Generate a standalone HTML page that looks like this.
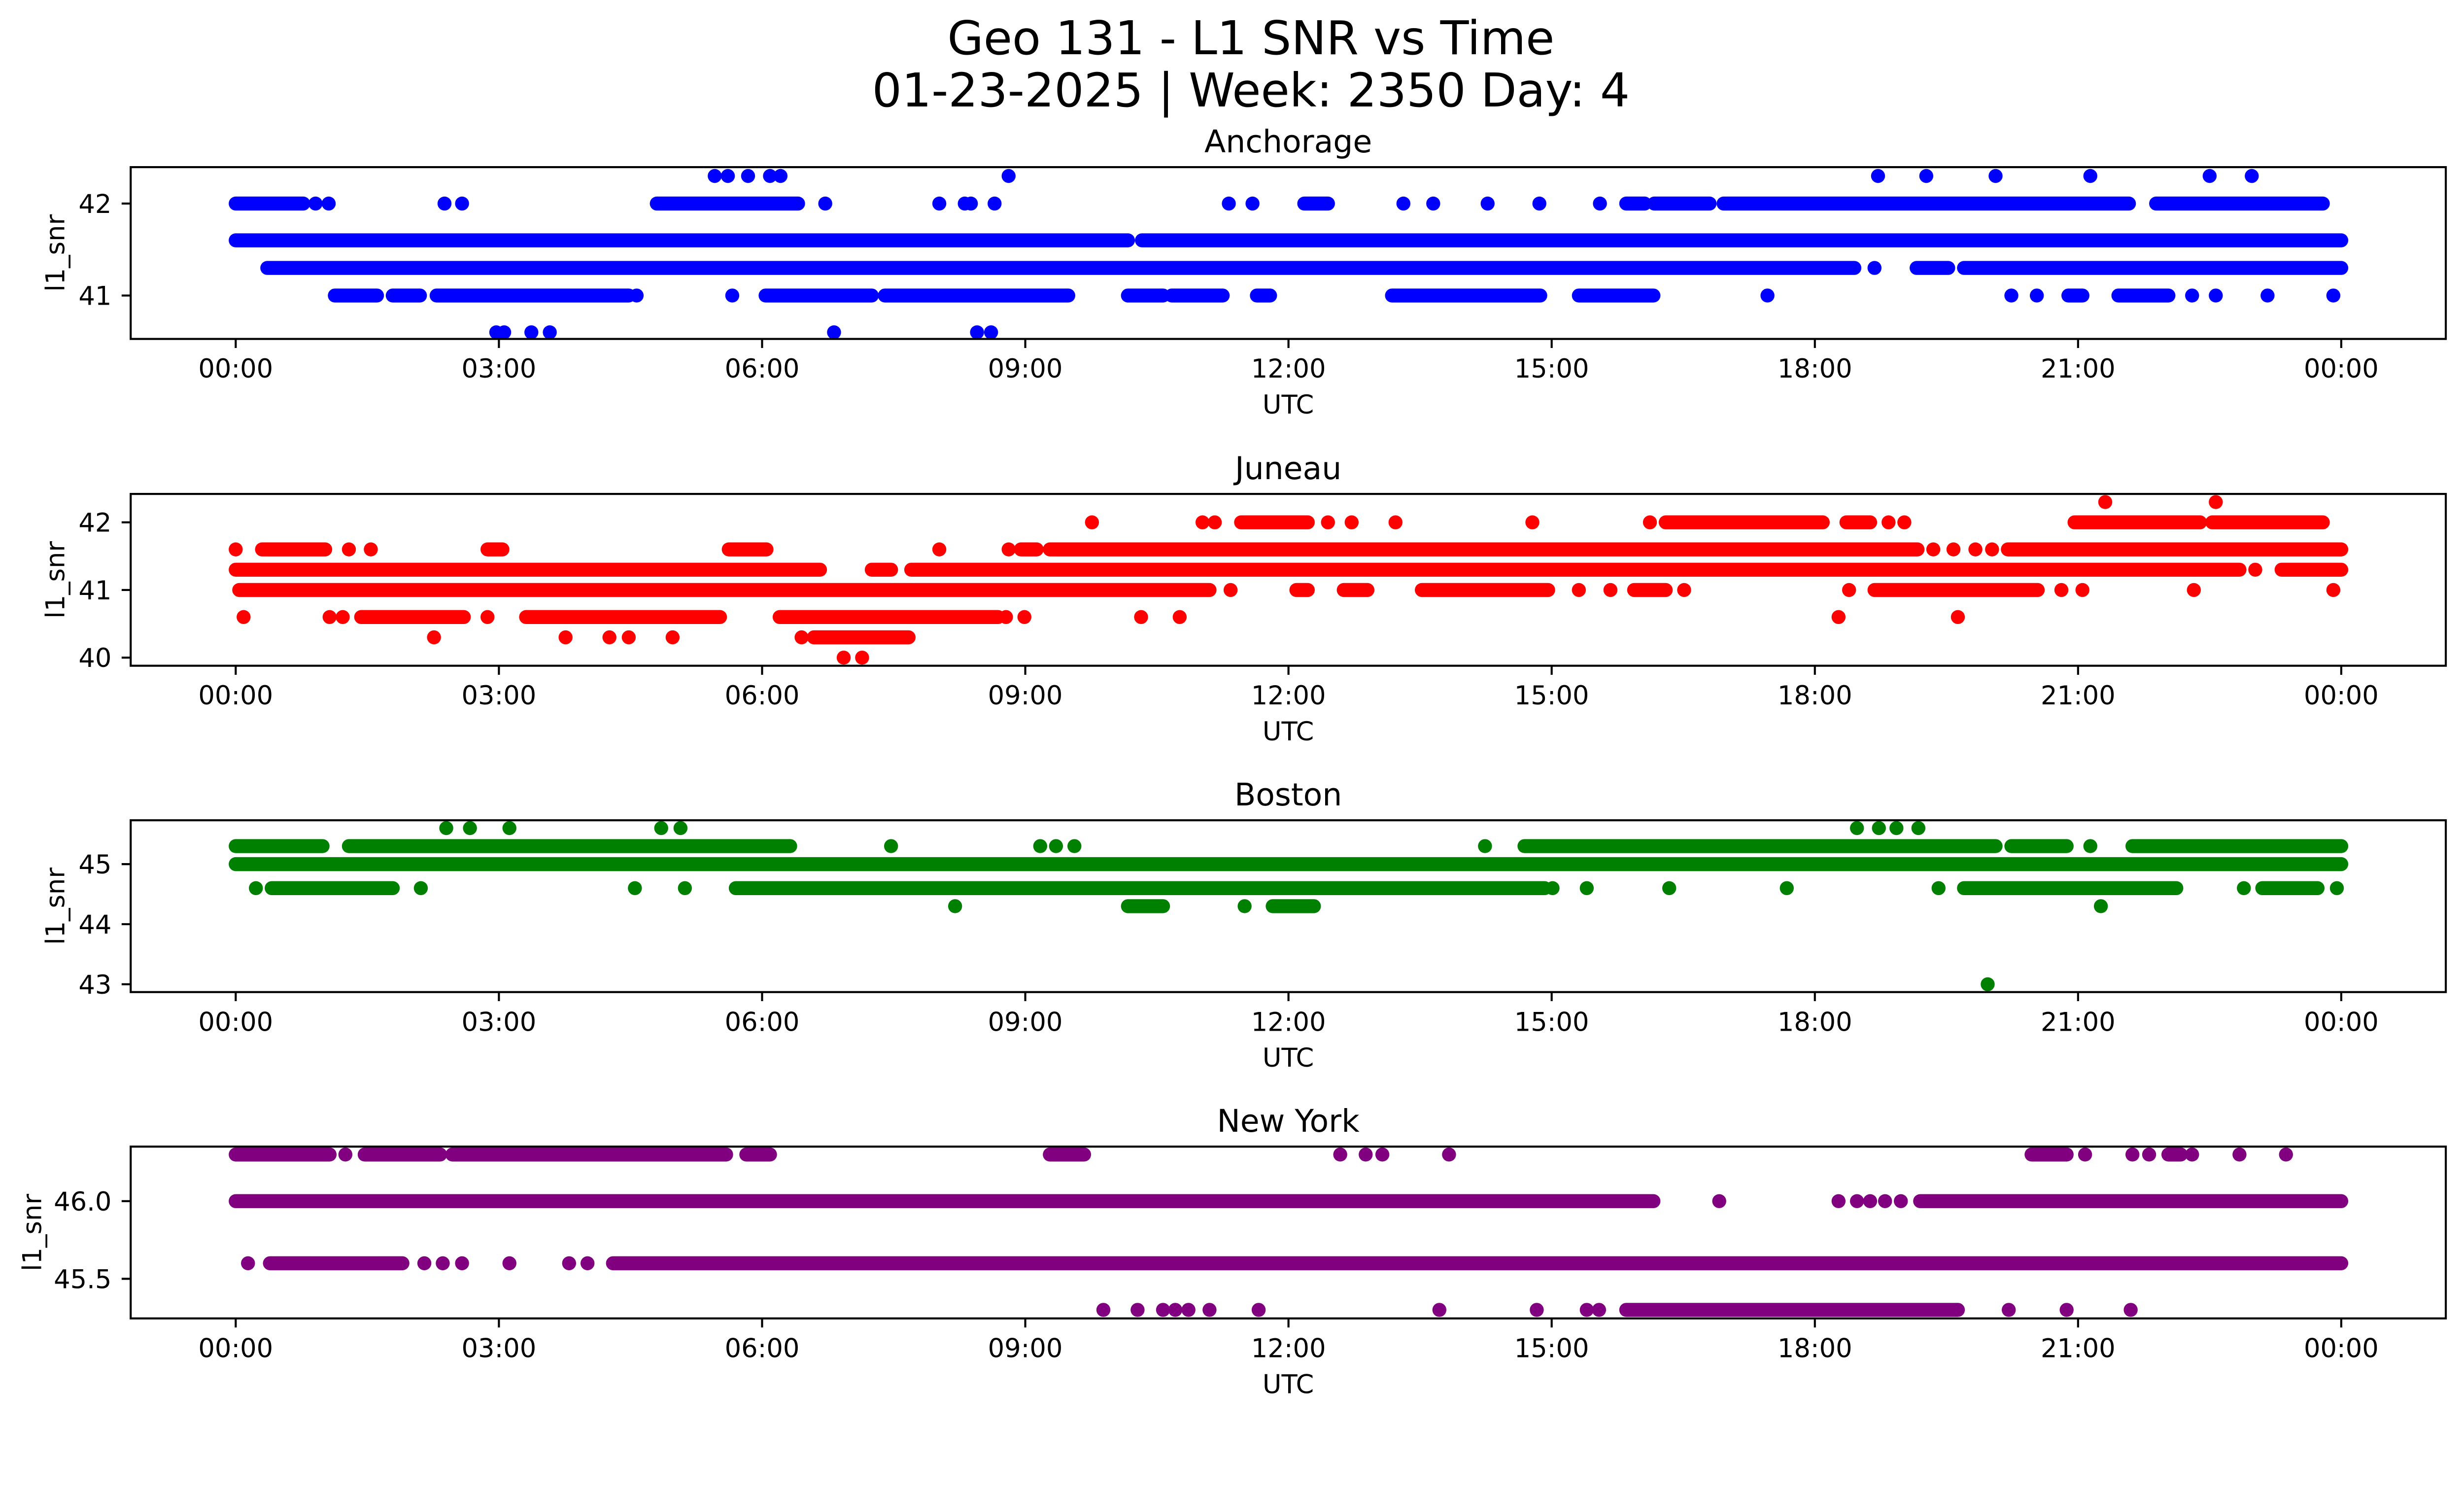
<!DOCTYPE html>
<html><head><meta charset="utf-8"><title>Geo 131 - L1 SNR vs Time</title>
<style>html,body{margin:0;padding:0;background:#fff;overflow:hidden;}svg{display:block;width:100vw;height:57.4541vw;}text{font-family:"DejaVu Sans","Liberation Sans",sans-serif;fill:#000;}</style>
</head><body>
<svg id="fig" xmlns="http://www.w3.org/2000/svg" viewBox="0 0 5279 3033" preserveAspectRatio="none">
<rect width="5279" height="3033" fill="#fff"/>
<text x="2680" y="116" font-size="100" text-anchor="middle">Geo 131 - L1 SNR vs Time</text>
<text x="2680" y="228" font-size="100" text-anchor="middle">01-23-2025 | Week: 2350 Day: 4</text>
</svg>
<script>
// ---- data (hours UTC, l1_snr) ----
const xTickHours = [0,3,6,9,12,15,18,21,24];
const xTickLabels = ["00:00","03:00","06:00","09:00","12:00","15:00","18:00","21:00","00:00"];

const anchTicks = [41,42];
const anchTickLabels = ["41","42"];
const anchRuns = [[42,0,0.77],[42,4.80,6.41],[42,12.18,12.45],[42,15.85,16.06],[42,16.17,16.80],[42,16.96,21.58],[42,21.89,23.79],
 [41.6,0,10.17],[41.6,10.33,24],
 [41.3,0.36,18.45],[41.3,19.16,19.52],[41.3,19.70,24],
 [41,1.13,1.61],[41,1.79,2.10],[41,2.29,4.48],[41,6.04,7.25],[41,7.40,9.49],[41,10.17,10.57],[41,10.67,11.25],[41,11.64,11.79],[41,13.18,14.87],[41,15.31,16.16],[41,20.89,21.05],[41,21.46,22.03]];
const anchPts = [[42.3,5.46],[42.3,5.61],[42.3,5.84],[42.3,6.09],[42.3,6.21],[42.3,8.81],[42.3,18.72],[42.3,19.27],[42.3,20.06],[42.3,21.14],[42.3,22.50],[42.3,22.98],
 [40.6,2.97],[40.6,3.06],[40.6,3.37],[40.6,3.58],[40.6,6.82],[40.6,8.45],[40.6,8.61],
 [42,0.91],[42,1.06],[42,2.38],[42,2.58],[42,6.72],[42,8.02],[42,8.31],[42,8.38],[42,8.65],[42,11.32],[42,11.59],[42,13.31],[42,13.65],[42,14.27],[42,14.86],[42,15.55],
 [41.3,18.68],
 [41,4.57],[41,5.66],[41,17.46],[41,20.24],[41,20.53],[41,22.30],[41,22.57],[41,23.16],[41,23.91]];

const junTicks = [40,41,42];
const junTickLabels = ["40","41","42"];
const junRuns = [[42,11.46,12.22],[42,16.30,18.09],[42,18.36,18.63],[42,20.96,22.39],[42,22.53,23.79],
 [41.6,0.30,1.02],[41.6,2.87,3.04],[41.6,5.62,6.05],[41.6,8.95,9.13],[41.6,9.28,19.17],[41.6,20.20,24],
 [41.3,0,6.66],[41.3,7.25,7.47],[41.3,7.70,22.84],[41.3,23.32,24],
 [41,0.04,11.10],[41,12.09,12.22],[41,12.63,12.90],[41,13.52,14.96],[41,15.94,16.30],[41,18.68,20.54],
 [40.6,1.43,2.60],[40.6,3.31,5.52],[40.6,6.20,8.69],
 [40.3,6.59,7.67]];
const junPts = [[42.3,21.31],[42.3,22.57],
 [42,9.76],[42,11.02],[42,11.16],[42,12.45],[42,12.72],[42,13.22],[42,14.78],[42,16.12],[42,18.84],[42,19.02],
 [41.6,0],[41.6,1.29],[41.6,1.54],[41.6,8.02],[41.6,8.81],[41.6,19.35],[41.6,19.58],[41.6,19.83],[41.6,20.02],
 [41.3,23.02],
 [41,11.34],[41,15.31],[41,15.67],[41,16.51],[41,18.39],[41,20.81],[41,21.05],[41,22.32],[41,23.91],
 [40.6,0.09],[40.6,1.07],[40.6,1.22],[40.6,2.87],[40.6,8.78],[40.6,8.99],[40.6,10.32],[40.6,10.76],[40.6,18.27],[40.6,19.63],
 [40.3,2.26],[40.3,3.76],[40.3,4.26],[40.3,4.48],[40.3,4.98],[40.3,6.45],
 [40,6.93],[40,7.14]];

const bosTicks = [43,44,45];
const bosTickLabels = ["43","44","45"];
const bosRuns = [[45.3,0,0.99],[45.3,1.29,6.32],[45.3,14.69,20.06],[45.3,20.24,20.87],[45.3,21.62,24],
 [45,0,24],
 [44.6,0.41,1.79],[44.6,5.70,14.92],[44.6,19.70,22.12],[44.6,23.10,23.73],
 [44.3,10.17,10.57],[44.3,11.82,12.29]];
const bosPts = [[45.6,2.40],[45.6,2.67],[45.6,3.12],[45.6,4.85],[45.6,5.07],[45.6,18.48],[45.6,18.73],[45.6,18.93],[45.6,19.18],
 [45.3,7.47],[45.3,9.17],[45.3,9.35],[45.3,9.56],[45.3,14.24],[45.3,21.14],
 [44.6,0.23],[44.6,2.11],[44.6,4.55],[44.6,5.12],[44.6,15.01],[44.6,15.40],[44.6,16.34],[44.6,17.68],[44.6,19.41],[44.6,22.89],[44.6,23.95],
 [44.3,8.20],[44.3,11.50],[44.3,21.26],
 [43,19.97]];

const nyTicks = [45.5,46.0];
const nyTickLabels = ["45.5","46.0"];
const nyRuns = [[46.3,0,1.07],[46.3,1.47,2.33],[46.3,2.47,5.59],[46.3,5.82,6.09],[46.3,9.28,9.67],[46.3,20.47,20.87],[46.3,22.03,22.17],
 [46,0,16.16],[46,19.20,24],
 [45.6,0.39,1.90],[45.6,4.30,24],
 [45.3,15.85,19.63]];
const nyPts = [[46.3,1.25],[46.3,12.59],[46.3,12.88],[46.3,13.07],[46.3,13.83],[46.3,21.08],[46.3,21.62],[46.3,21.81],[46.3,22.30],[46.3,22.84],[46.3,23.37],
 [46,16.91],[46,18.27],[46,18.48],[46,18.63],[46,18.80],[46,18.98],
 [45.6,0.14],[45.6,2.15],[45.6,2.36],[45.6,2.58],[45.6,3.12],[45.6,3.80],[45.6,4.01],
 [45.3,9.89],[45.3,10.28],[45.3,10.57],[45.3,10.71],[45.3,10.86],[45.3,11.10],[45.3,11.66],[45.3,13.72],[45.3,14.83],[45.3,15.40],[45.3,15.54],[45.3,20.21],[45.3,20.87],[45.3,21.60]];

// ---- layout ----
const NS = "http://www.w3.org/2000/svg";
const svg = document.getElementById('fig');
const AX_L = 280, AX_R = 5240, AX_H = 368;
const X0 = 505, X24 = 5016;
function xScale(h){ return X0 + (X24 - X0) * h / 24; }
function mk(tag, attrs, parent){
  const e = document.createElementNS(NS, tag);
  for (const k in attrs) e.setAttribute(k, attrs[k]);
  (parent || svg).appendChild(e);
  return e;
}
const panels = [
  {key:'anchorage', title:'Anchorage', top:358, ymin:40.528, ymax:42.396, color:'#0000ff', ticks:anchTicks, tl:anchTickLabels, runs:anchRuns, pts:anchPts, ylx:118},
  {key:'juneau', title:'Juneau', top:1058, ymin:39.88, ymax:42.42, color:'#ff0000', ticks:junTicks, tl:junTickLabels, runs:junRuns, pts:junPts, ylx:118},
  {key:'boston', title:'Boston', top:1757, ymin:42.87, ymax:45.73, color:'#008000', ticks:bosTicks, tl:bosTickLabels, runs:bosRuns, pts:bosPts, ylx:118},
  {key:'new-york', title:'New York', top:2456, ymin:45.245, ymax:46.351, color:'#800080', ticks:nyTicks, tl:nyTickLabels, runs:nyRuns, pts:nyPts, ylx:68}
];
const R = 15;
panels.forEach(p => {
  const bot = p.top + AX_H;
  const yScale = v => bot - (v - p.ymin) / (p.ymax - p.ymin) * AX_H;
  const g = mk('g', {});
  
  
  const t = mk('text', {x:(AX_L+AX_R)/2, y:p.top-32, 'font-size':66.7, 'text-anchor':'middle'}, g);
  t.textContent = p.title;
  
  
  const clipId = 'clip-' + p.key;
  const cp = mk('clipPath', {id:clipId}, g);
  mk('rect', {x:AX_L, y:p.top, width:AX_R-AX_L, height:AX_H}, cp);
  const plot = mk('g', {'clip-path':'url(#'+clipId+')'}, g);
  
  
  p.runs.forEach(r => {
    const ln = mk('line', {x1:xScale(r[1]), x2:xScale(r[2]), y1:yScale(r[0]), y2:yScale(r[0]), stroke:p.color, 'stroke-width':2*R, 'stroke-linecap':'round'}, plot);
    
    
  });
  p.pts.forEach(q => {
    const c = mk('circle', {cx:xScale(q[1]), cy:yScale(q[0]), r:R, fill:p.color}, plot);
    
    
  });
  const frame = mk('rect', {x:AX_L, y:p.top, width:AX_R-AX_L, height:AX_H, fill:'none', stroke:'#000', 'stroke-width':4.4}, g);
  
  
  xTickHours.forEach((h, i) => {
    const x = xScale(h);
    mk('line', {x1:x, x2:x, y1:bot, y2:bot+19.4, stroke:'#000', 'stroke-width':4.4}, g);
    const tl = mk('text', {x:x, y:bot+83, 'font-size':55.6, 'text-anchor':'middle'}, g);
    tl.textContent = xTickLabels[i];
    
    
  });
  p.ticks.forEach((v, i) => {
    const y = yScale(v);
    mk('line', {x1:AX_L-19.4, x2:AX_L, y1:y, y2:y, stroke:'#000', 'stroke-width':4.4}, g);
    const tl = mk('text', {x:239, y:y+20, 'font-size':55.6, 'text-anchor':'end'}, g);
    tl.textContent = p.tl[i];
    
    
  });
  const xl = mk('text', {x:(AX_L+AX_R)/2, y:bot+160, 'font-size':55.6, 'text-anchor':'middle'}, g);
  xl.textContent = 'UTC';
  
  
  const cy = p.top + AX_H/2;
  const yl = mk('text', {x:p.ylx+20, y:cy, 'font-size':55.6, 'text-anchor':'middle', transform:'rotate(-90 '+(p.ylx+20)+' '+cy+')'}, g);
  yl.textContent = 'l1_snr';
  
  
});
</script>
</body></html>
